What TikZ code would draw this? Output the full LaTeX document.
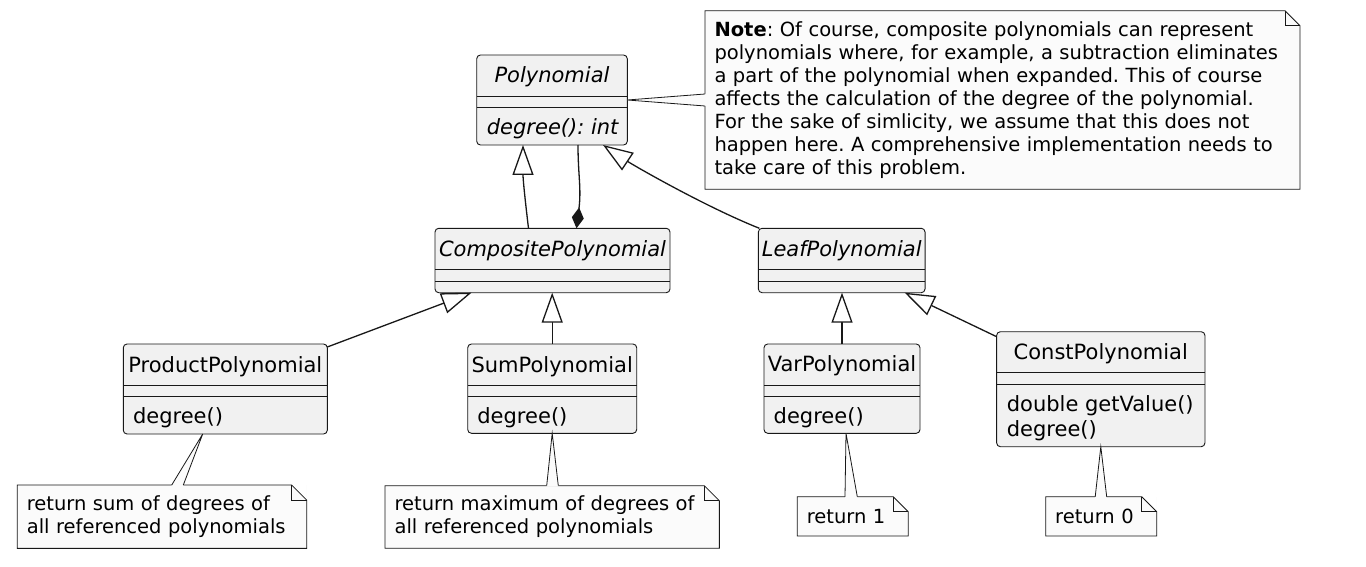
\documentclass[tikz,border=0pt]{standalone}
\usepackage{fontspec}
\setmainfont{DejaVu Sans}
\usepackage{tikz}
\usetikzlibrary{arrows.meta}
\usepackage{xcolor}
\frenchspacing
\definecolor{classfill}{RGB}{241,241,241}
\definecolor{notefill}{RGB}{251,251,251}
\definecolor{umlline}{RGB}{24,24,24}
\newcommand{\umlclass}[5]{\node[classbox,minimum width=#4,minimum height=#5,anchor=north] (#1) at (#2,#3) {};
  \draw[sepline] ([yshift=-41]#1.north west) -- ([yshift=-41]#1.north east);
  \draw[sepline] ([yshift=-52.7]#1.north west) -- ([yshift=-52.7]#1.north east);}
\newcommand{\umlnote}[1]{\fill[white] ([xshift=-15]#1.north east) -- (#1.north east) -- ([yshift=-15]#1.north east) -- cycle;
  \draw[noteline] (#1.north west) -- ([xshift=-15]#1.north east) -- ([yshift=-15]#1.north east) -- (#1.south east) -- (#1.south west) -- cycle;
  \draw[noteline] ([xshift=-15]#1.north east) |- ([yshift=-15]#1.north east);}
\newcommand{\notelink}[4]{\fill[notefill] (#1) -- ([xshift=#3]#2.north) -- ([xshift=#3,yshift=-1]#2.north) -- ([xshift=#4,yshift=-1]#2.north) -- ([xshift=#4]#2.north) -- cycle;
  \draw[noteline] ([xshift=#3]#2.north) -- (#1) -- ([xshift=#4]#2.north);}

\begin{document}
\begin{tikzpicture}[x=1pt,y=-1pt,font=\fontsize{21}{24.4}\selectfont,
  classbox/.style={draw=umlline,fill=classfill,line width=0.9pt,rounded corners=3.75pt,inner sep=0pt,outer sep=0pt},
  sepline/.style={draw=umlline,line width=0.9pt},
  classname/.style={inner sep=0pt},
  member/.style={anchor=west,inner sep=0pt},
  notebox/.style={fill=notefill,inner xsep=9.5pt,inner ysep=0pt,outer sep=0pt,align=left,font=\fontsize{19.5}{23}\selectfont},
  noteline/.style={draw=umlline,line width=0.8pt},
  umledge/.style={draw=umlline,line width=1.3pt},
  extends/.style={umledge,-{Triangle[open,length=30pt,width=21pt,fill=white]}},
  composes/.style={umledge,{Diamond[length=21pt,width=12pt]}-}]
  \fill[white] (0,0) rectangle (1366,567);
  % classes
  \umlclass{poly}{552}{55}{150.6}{90}
  \umlclass{comp}{552.5}{228.3}{235}{64.4}
  \umlclass{leaf}{841.7}{228.3}{166.7}{64.4}
  \umlclass{prod}{225.3}{344}{204}{90}
  \umlclass{sum}{552.2}{344}{169}{89.3}
  \umlclass{var}{842}{344}{156}{89.3}
  \umlclass{const}{1100.8}{331.7}{208.3}{115}
  \node[classname] (poly-name) at ([yshift=-22]poly.north) {\itshape Polynomial};
  \node[member] (poly-m1) at ([xshift=10,yshift=-74]poly.north west) {\itshape degree(): int};
  \node[classname] (comp-name) at ([yshift=-22.5]comp.north) {\itshape CompositePolynomial};
  \node[classname] (leaf-name) at ([yshift=-22]leaf.north) {\itshape LeafPolynomial};
  \node[classname] (prod-name) at ([yshift=-23]prod.north) {ProductPolynomial};
  \node[member] (prod-m1) at ([xshift=9.5,yshift=-74]prod.north west) {degree()};
  \node[classname] (sum-name) at ([yshift=-23]sum.north) {SumPolynomial};
  \node[member] (sum-m1) at ([xshift=9.5,yshift=-74]sum.north west) {degree()};
  \node[classname] (var-name) at ([yshift=-22]var.north) {VarPolynomial};
  \node[member] (var-m1) at ([xshift=9.5,yshift=-74]var.north west) {degree()};
  \node[classname] (const-name) at ([yshift=-22]const.north) {ConstPolynomial};
  \node[member] (const-m1) at ([xshift=10,yshift=-73.6]const.north west) {double getValue()};
  \node[member] (const-m2) at ([xshift=10,yshift=-98.6]const.north west) {degree()};
  % notes
  \node[notebox,text width=576,minimum height=178.6] (topnote) at (1002.5,100) {\textbf{Note}: Of course, composite polynomials can represent\\polynomials where, for example, a subtraction eliminates\\a part of the polynomial when expanded. This of course\\affects the calculation of the degree of the polynomial.\\For the sake of simlicity, we assume that this does not\\happen here. A comprehensive implementation needs to\\take care of this problem.};
  \umlnote{topnote}
  \fill[notefill] (poly.east) -- ([yshift=6]topnote.west) -- ([xshift=1,yshift=6]topnote.west) -- ([xshift=1,yshift=-6]topnote.west) -- ([yshift=-6]topnote.west) -- cycle;
  \draw[noteline] ([yshift=6]topnote.west) -- (poly.east) -- ([yshift=-6]topnote.west);
  \node[notebox,text width=270.4,minimum height=63.3] (prodnote) at (162,516.7) {return sum of degrees of\\all referenced polynomials};
  \umlnote{prodnote}
  \notelink{[xshift=-22.6]prod.south}{prodnote}{9.7}{21.3}
  \node[notebox,text width=315.3,minimum height=62.6] (sumnote) at (552.2,517) {return maximum of degrees of\\all referenced polynomials};
  \umlnote{sumnote}
  \notelink{sum.south}{sumnote}{-5.5}{6.1}
  \node[notebox,text width=92,minimum height=39.3] (varnote) at (852.8,516.4) {return 1};
  \umlnote{varnote}
  \notelink{[xshift=4]var.south}{varnote}{-7.8}{4.5}
  \node[notebox,text width=92,minimum height=39.3] (constnote) at (1101.2,516.4) {return 0};
  \umlnote{constnote}
  \notelink{const.south}{constnote}{-6}{5.5}
  % relations
  \draw[extends] ([xshift=-24]comp.north) .. controls +(-3,-25) and +(0,35) .. ([xshift=-29]poly.south);
  \draw[composes] ([xshift=24]comp.north) .. controls +(5,-40) and +(0,30) .. ([xshift=26]poly.south);
  \draw[extends] ([xshift=1]leaf.north west) .. controls +(-55,-22) and +(30,20) .. ([xshift=51]poly.south);
  \draw[extends] ([yshift=-3]prod.north east) -- ([xshift=-81]comp.south);
  \draw[extends] (sum.north) -- (sum.north |- comp.south);
  \draw[extends] (var.north) -- (var.north |- leaf.south);
  \draw[extends] ([yshift=-5]const.north west) -- ([xshift=63]leaf.south);
\end{tikzpicture}
\end{document}
